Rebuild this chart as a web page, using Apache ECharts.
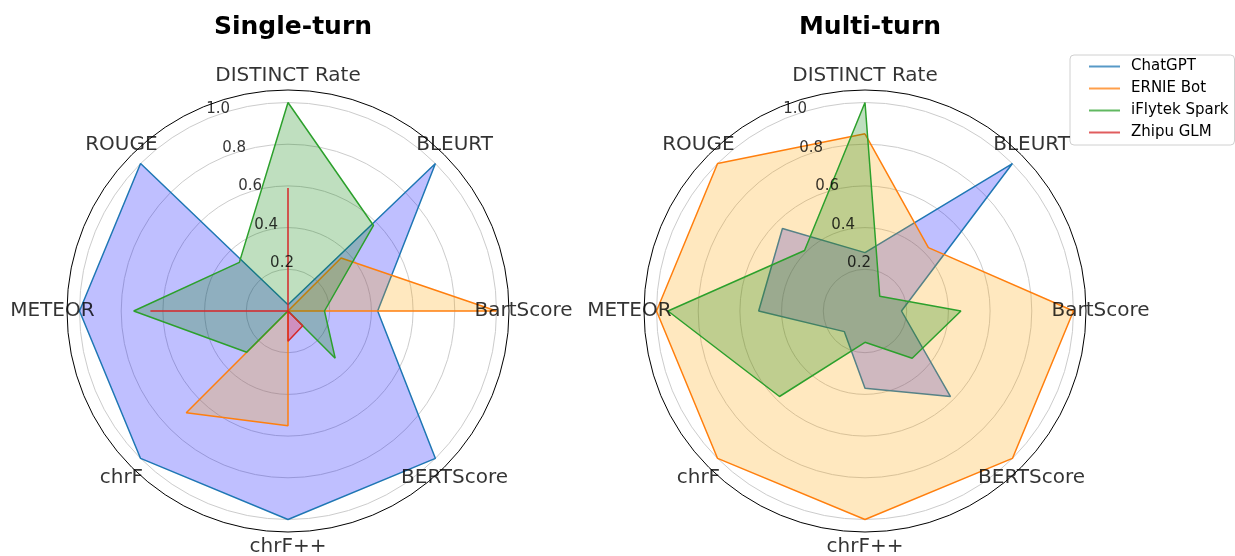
<!DOCTYPE html>
<html>
<head>
<meta charset="utf-8">
<script src="https://cdn.jsdelivr.net/npm/echarts@6/dist/echarts.min.js"></script>
<style>
  html, body { margin: 0; padding: 0; background: #fff; }
  #chart { width: 1235px; height: 556px; }
</style>
</head>
<body>
<div id="chart"></div>
<script>
// axes go counter-clockwise starting at the top
const categories = ['DISTINCT Rate', 'ROUGE', 'METEOR', 'chrF', 'chrF++', 'BERTScore', 'BartScore', 'BLEURT'];
const models = ['ChatGPT', 'ERNIE Bot', 'iFlytek Spark', 'Zhipu GLM'];
const panelTitles = ['Single-turn', 'Multi-turn'];
const radiusTicks = [0.2, 0.4, 0.6, 0.8, 1.0];

// single-turn scores
const singleChatGPT = [0.03, 1.0, 1.0, 1.0, 1.0, 1.0, 0.43, 1.0];
const singleErnie   = [0.0, 0.0, 0.0, 0.69, 0.55, 0.0, 1.0, 0.36];
const singleSpark   = [1.0, 0.33, 0.74, 0.28, 0.0, 0.32, 0.175, 0.58];
const singleZhipu   = [0.59, 0.0, 0.66, 0.0, 0.145, 0.1, 0.0, 0.0];

// multi-turn scores
const multiChatGPT = [0.28, 0.56, 0.51, 0.14, 0.37, 0.58, 0.175, 1.0];
const multiErnie   = [0.85, 1.0, 1.0, 1.0, 1.0, 1.0, 1.0, 0.43];
const multiSpark   = [1.0, 0.41, 0.945, 0.58, 0.15, 0.32, 0.46, 0.1];
const multiZhipu   = [0.0, 0.0, 0.0, 0.0, 0.0, 0.0, 0.0, 0.0];

const panels = [
  [singleChatGPT, singleErnie, singleSpark, singleZhipu],
  [multiChatGPT, multiErnie, multiSpark, multiZhipu]
];

const lineColors = ['#1f77b4', '#ff7f0e', '#2ca02c', '#d62728'];
const fillColors = ['rgba(0,0,255,0.25)', 'rgba(255,165,0,0.25)', 'rgba(0,128,0,0.25)', 'rgba(255,0,0,0.25)'];

const FONT = 'DejaVu Sans';
const rMax = 1.06;          // outer black ring
const labelR = 1.13;        // where the category names sit
const tickLabelAngle = 22.5;
const centers = [[288, 311], [865, 311]];
const step = 360 / categories.length;

const closeLoop = (vals) => {
  const pts = vals.map((v, i) => [v, i * step]);
  pts.push([vals[0], 360]);
  return pts;
};

const polar = centers.map(c => ({ center: c, radius: 221 }));

const angleAxis = centers.map((c, i) => ({
  polarIndex: i,
  type: 'value',
  min: 0,
  max: 360,
  interval: step,
  startAngle: 90,
  clockwise: false,
  axisLine: { show: true, lineStyle: { color: '#000', width: 1 } },
  axisTick: { show: false },
  axisLabel: { show: false },
  splitLine: { show: false }
}));

const radiusAxis = centers.map((c, i) => ({
  polarIndex: i,
  min: 0,
  max: rMax,
  interval: 0.2,
  axisLine: { show: false },
  axisTick: { show: false },
  axisLabel: { show: false },
  splitLine: {
    show: true,
    lineStyle: { color: ['#cccccc', '#cccccc', '#cccccc', '#cccccc', '#cccccc', '#cccccc', 'rgba(0,0,0,0)'], width: 1 }
  }
}));

const series = [];
panels.forEach((panel, p) => {
  panel.forEach((vals, k) => {
    series.push({
      name: models[k],
      type: 'line',
      coordinateSystem: 'polar',
      polarIndex: p,
      data: closeLoop(vals),
      color: lineColors[k],
      showSymbol: false,
      symbol: 'none',
      lineStyle: { color: lineColors[k], width: 1.5 },
      areaStyle: { color: fillColors[k], opacity: 1 },
      z: 3 + k
    });
  });
  // category names around the ring
  series.push({
    type: 'scatter',
    coordinateSystem: 'polar',
    polarIndex: p,
    clip: false,
    silent: true,
    symbolSize: 1,
    itemStyle: { color: 'rgba(0,0,0,0)' },
    data: categories.map((name, i) => ({ value: [labelR, i * step], name: name })),
    label: {
      show: true,
      position: 'inside',
      formatter: (d) => d.name,
      fontFamily: FONT,
      fontSize: 20,
      color: '#000',
      textBorderWidth: 0
    },
    z: 10
  });
  // radial tick labels
  series.push({
    type: 'scatter',
    coordinateSystem: 'polar',
    polarIndex: p,
    clip: false,
    silent: true,
    symbolSize: 1,
    itemStyle: { color: 'rgba(0,0,0,0)' },
    data: radiusTicks.map(t => [t, tickLabelAngle]),
    label: {
      show: true,
      position: 'inside',
      offset: [10, -9],
      formatter: (d) => d.value[0].toFixed(1),
      fontFamily: FONT,
      fontSize: 15,
      color: '#000',
      textBorderWidth: 0
    },
    z: 10
  });
});

const chart = echarts.init(document.getElementById('chart'));
chart.setOption({
  animation: false,
  backgroundColor: '#fff',
  title: panelTitles.map((t, i) => ({
    text: t,
    left: centers[i][0],
    top: 10,
    textAlign: 'center',
    textStyle: { fontFamily: FONT, fontSize: 25, fontWeight: 'bold', color: '#000' }
  })),
  legend: {
    data: models,
    orient: 'vertical',
    left: 1070,
    top: 55,
    icon: 'rect',
    itemWidth: 31,
    itemHeight: 2,
    itemGap: 5,
    padding: [3, 6, 4, 19],
    borderColor: '#d0d0d0',
    borderWidth: 1,
    borderRadius: 4,
    itemStyle: { opacity: 0.75 },
    textStyle: { fontFamily: FONT, fontSize: 15, color: '#000', lineHeight: 17, padding: [0, 0, 0, 6] }
  },
  polar: polar,
  angleAxis: angleAxis,
  radiusAxis: radiusAxis,
  series: series
});
</script>
</body>
</html>
